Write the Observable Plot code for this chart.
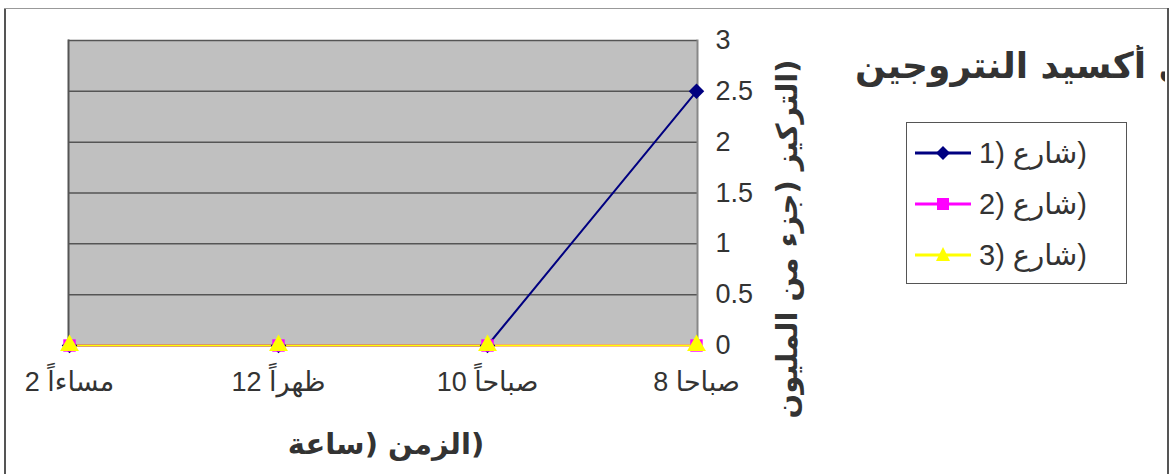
<!DOCTYPE html>
<html><head><meta charset="utf-8">
<script src="https://cdn.jsdelivr.net/npm/d3@7"></script>
<script src="https://cdn.jsdelivr.net/npm/@observablehq/plot@0.6"></script>
<style>
html,body{margin:0;padding:0;background:#fff;}
#wrap{position:relative;width:1172px;height:474px;overflow:hidden;font-family:'Liberation Sans','DejaVu Sans',sans-serif;color:#333;}
#chart{position:absolute;left:0;top:0;}
.frame-l{position:absolute;left:4px;top:8px;width:2px;height:470px;background:#555;}
.frame-t{position:absolute;left:4px;top:8px;width:1165px;height:1px;background:#999;}
.frame-r{position:absolute;left:1167px;top:8px;width:2px;height:470px;background:#555;}
#title{position:absolute;left:855px;top:45px;width:310px;height:60px;overflow:hidden;}
#title div{position:absolute;left:0;top:0;white-space:nowrap;direction:rtl;font-family:'DejaVu Sans',sans-serif;font-weight:bold;font-size:36px;color:#333;}
#ytitle{position:absolute;left:787px;top:239px;transform:translate(-50%,-50%) rotate(-90deg);white-space:nowrap;font-family:'DejaVu Sans',sans-serif;font-weight:bold;font-size:29px;color:#333;}
#xtitle{position:absolute;left:386px;top:444px;transform:translate(-50%,-50%);white-space:nowrap;font-family:'DejaVu Sans',sans-serif;font-weight:bold;font-size:29px;color:#333;}
#legend{position:absolute;left:906px;top:122px;width:219px;height:160px;border:1px solid #555;background:#fff;}
.row{position:absolute;left:8px;height:40px;display:flex;align-items:center;}
.row span{font-size:29px;margin-left:8px;color:#333;white-space:nowrap;}
</style></head>
<body><div id="wrap">
<div id="chart"></div>
<div class="frame-l"></div><div class="frame-t"></div><div class="frame-r"></div>
<div id="title"><div></div></div>
<div id="ytitle"></div>
<div id="xtitle"></div>
<div id="legend"></div>
</div>
<script>
const titleText = "تركيز ثاني أكسيد النتروجين";
const yTitle = "التركيز (جزء من المليون)";
const xTitle = "الزمن (ساعة)";
const categories = ["8 صباحا", "10 صباحاً", "12 ظهراً", "2 مساءاً"];
const seriesNames = ["شارع (1)", "شارع (2)", "شارع (3)"];
const series1 = [2.5, 0, 0, 0];
const series2 = [0, 0, 0, 0];
const series3 = [0, 0, 0, 0];
const yTicks = [0, 0.5, 1, 1.5, 2, 2.5, 3];

// the reference lays out the closing bracket outside the Arabic run (older bidi behaviour);
// isolate the final ")" so the browser places it the same way
const asShown = s => s.replace(/\)$/, "\u2068)\u2069");

const colors = ["#000080", "#ff00ff", "#ffff00"];
const symbols = ["diamond2", "square", "triangle"];
const radii = [7, 7, 7];
const allSeries = [series1, series2, series3];

const data = [];
allSeries.forEach((vals, si) => vals.forEach((v, i) => data.push({series: seriesNames[si], cat: categories[i], value: v, si})));

const marks = [
  Plot.frame({fill: "#c0c0c0", stroke: null}),
  Plot.gridY(yTicks.filter(d => d > 0), {stroke: "#555", strokeOpacity: 1, strokeWidth: 1.5}),
  Plot.frame({anchor: "left", stroke: "#555", strokeWidth: 2}),
  Plot.frame({anchor: "right", stroke: "#888", strokeWidth: 2}),
  Plot.axisX({tickSize: 6, tickPadding: 20, fontSize: 27, stroke: "#555", label: null}),
  Plot.axisY({anchor: "right", ticks: yTicks, tickSize: 0, tickPadding: 18, fontSize: 27, label: null, tickFormat: d => String(d)})
];
[0, 1, 2].forEach(si => {
  const d = data.filter(r => r.si === si);
  marks.push(Plot.line(d, {x: "cat", y: "value", stroke: colors[si], strokeWidth: 2}));
});
[0, 1, 2].forEach(si => {
  const d = data.filter(r => r.si === si);
  marks.push(Plot.dot(d, {x: "cat", y: "value", fill: colors[si], stroke: null, symbol: symbols[si], r: radii[si]}));
});

const chart = Plot.plot({
  width: 1172, height: 474,
  marginLeft: 68, marginRight: 475, marginTop: 40, marginBottom: 129,
  style: {fontFamily: "'Liberation Sans','DejaVu Sans',sans-serif", color: "#333", background: "transparent"},
  x: {type: "point", domain: categories.slice().reverse(), padding: 0},
  y: {domain: [0, 3]},
  marks
});
document.getElementById("chart").appendChild(chart);

document.querySelector("#title div").textContent = titleText;
document.getElementById("ytitle").textContent = asShown(yTitle);
document.getElementById("xtitle").textContent = asShown(xTitle);

const legend = document.getElementById("legend");
const symPaths = [
  '<path d="M28,11 L35,18 L28,25 L21,18 Z" fill="#000080"/>',
  '<rect x="22" y="12" width="12" height="12" fill="#ff00ff"/>',
  '<path d="M28,10 L35,24 L21,24 Z" fill="#ffff00"/>'
];
seriesNames.forEach((n, i) => {
  const row = document.createElement("div");
  row.className = "row";
  row.style.top = (10 + i * 51) + "px";
  row.innerHTML = `<svg width="56" height="36"><line x1="0" x2="56" y1="18" y2="18" stroke="${colors[i]}" stroke-width="3"/>${symPaths[i]}</svg><span></span>`;
  row.querySelector("span").textContent = asShown(n);
  legend.appendChild(row);
});
</script>
</body></html>
